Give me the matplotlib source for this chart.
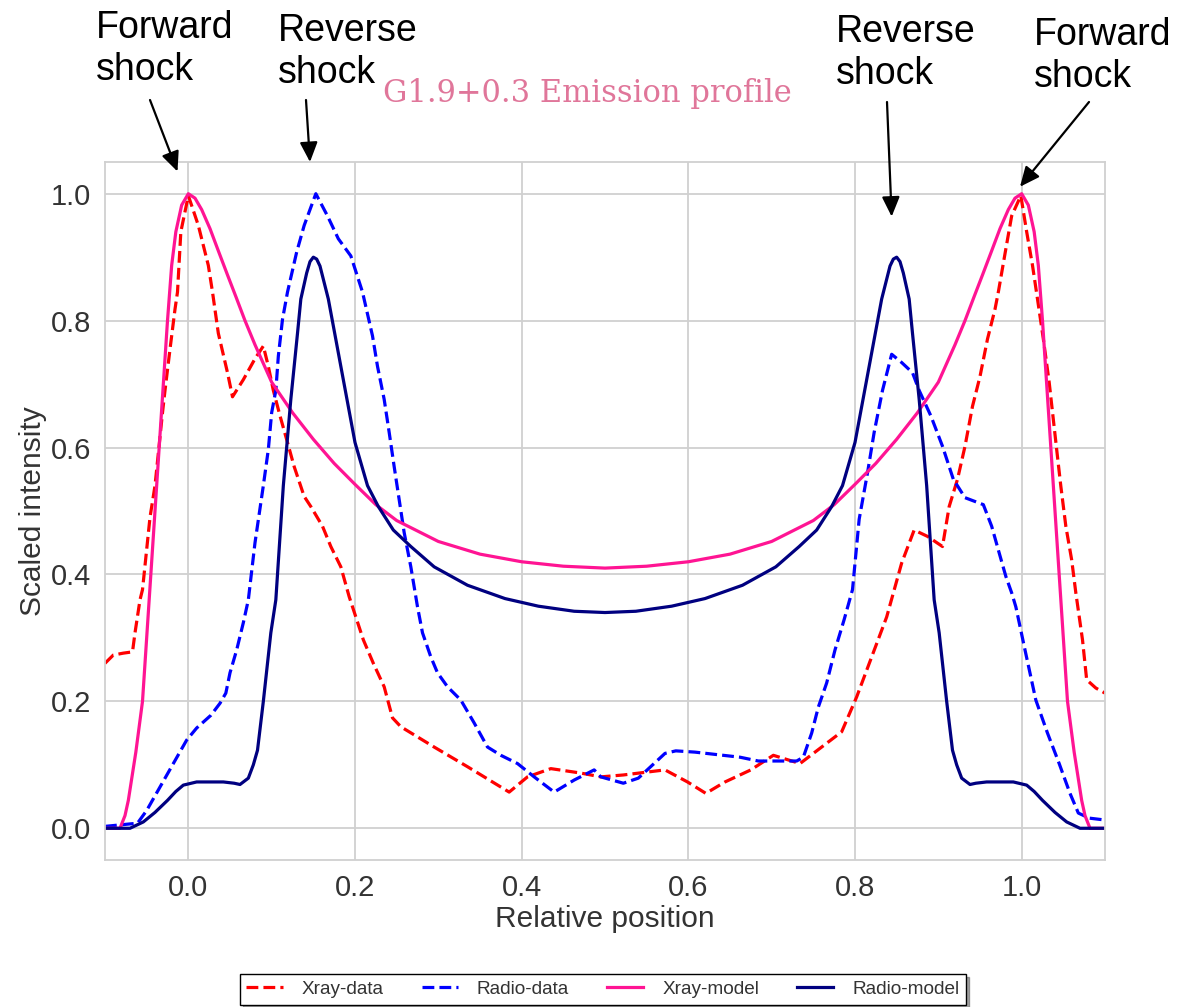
import matplotlib
matplotlib.use("Agg")
import matplotlib.pyplot as plt

# Emission profile of G1.9+0.3
xray_data_x = [-0.100, -0.090, -0.078, -0.067, -0.064, -0.058, -0.055, -0.046, -0.040, -0.031,
               -0.028, -0.022, -0.016, -0.013, -0.009, 0.000, 0.012, 0.024, 0.029, 0.036,
               0.047, 0.053, 0.066, 0.080, 0.090, 0.096, 0.102, 0.110, 0.119, 0.127,
               0.139, 0.147, 0.161, 0.171, 0.183, 0.193, 0.210, 0.222, 0.235, 0.245,
               0.255, 0.295, 0.335, 0.385, 0.407, 0.435, 0.471, 0.495, 0.522, 0.572,
               0.599, 0.621, 0.644, 0.675, 0.702, 0.734, 0.747, 0.784, 0.802, 0.820,
               0.838, 0.856, 0.871, 0.887, 0.905, 0.913, 0.923, 0.932, 0.941, 0.950,
               0.959, 0.968, 0.972, 0.981, 0.988, 0.999, 1.006, 1.013, 1.019, 1.026,
               1.033, 1.042, 1.047, 1.053, 1.060, 1.065, 1.073, 1.078, 1.089, 1.100]
xray_data_y = [0.260, 0.273, 0.276, 0.278, 0.308, 0.360, 0.376, 0.490, 0.540, 0.655,
               0.690, 0.755, 0.818, 0.845, 0.940, 0.997, 0.950, 0.887, 0.845, 0.780,
               0.718, 0.680, 0.707, 0.740, 0.760, 0.728, 0.690, 0.650, 0.608, 0.570,
               0.523, 0.507, 0.476, 0.444, 0.412, 0.365, 0.297, 0.260, 0.223, 0.174,
               0.160, 0.128, 0.097, 0.057, 0.081, 0.094, 0.087, 0.081, 0.084, 0.092,
               0.073, 0.055, 0.073, 0.092, 0.115, 0.102, 0.115, 0.152, 0.207, 0.270,
               0.333, 0.418, 0.470, 0.460, 0.444, 0.507, 0.550, 0.602, 0.665, 0.712,
               0.771, 0.818, 0.845, 0.913, 0.965, 0.997, 0.940, 0.887, 0.834, 0.771,
               0.703, 0.597, 0.539, 0.476, 0.423, 0.371, 0.297, 0.234, 0.221, 0.213]

radio_data_x = [-0.100, -0.061, -0.050, -0.034, -0.018, -0.002, 0.010, 0.027, 0.038, 0.045,
                0.050, 0.058, 0.066, 0.072, 0.080, 0.090, 0.096, 0.100, 0.105, 0.108,
                0.113, 0.119, 0.130, 0.139, 0.153, 0.167, 0.180, 0.195, 0.209, 0.221,
                0.227, 0.235, 0.241, 0.247, 0.253, 0.259, 0.267, 0.275, 0.281, 0.291,
                0.299, 0.311, 0.327, 0.343, 0.359, 0.375, 0.395, 0.415, 0.439, 0.463,
                0.487, 0.495, 0.522, 0.540, 0.572, 0.585, 0.608, 0.662, 0.684, 0.730,
                0.738, 0.748, 0.756, 0.766, 0.776, 0.787, 0.797, 0.805, 0.815, 0.823,
                0.833, 0.844, 0.856, 0.869, 0.877, 0.891, 0.905, 0.918, 0.932, 0.954,
                0.964, 0.973, 0.981, 0.988, 0.993, 1.004, 1.017, 1.031, 1.045, 1.058,
                1.068, 1.081, 1.100]
radio_data_y = [0.003, 0.008, 0.028, 0.065, 0.102, 0.139, 0.158, 0.178, 0.197, 0.213,
                0.245, 0.281, 0.324, 0.360, 0.450, 0.540, 0.597, 0.655, 0.690, 0.744,
                0.802, 0.845, 0.908, 0.950, 1.000, 0.965, 0.929, 0.902, 0.845, 0.776,
                0.728, 0.676, 0.624, 0.570, 0.518, 0.466, 0.412, 0.349, 0.308, 0.270,
                0.245, 0.223, 0.202, 0.166, 0.128, 0.115, 0.102, 0.081, 0.057, 0.076,
                0.092, 0.081, 0.071, 0.079, 0.118, 0.122, 0.120, 0.112, 0.106, 0.106,
                0.112, 0.150, 0.191, 0.229, 0.281, 0.329, 0.376, 0.487, 0.560, 0.624,
                0.690, 0.747, 0.734, 0.718, 0.690, 0.650, 0.602, 0.550, 0.521, 0.510,
                0.476, 0.434, 0.397, 0.371, 0.349, 0.281, 0.202, 0.150, 0.102, 0.055,
                0.024, 0.016, 0.013]

xray_model_x = [-0.100, -0.082, -0.076, -0.072, -0.063, -0.055, -0.047, -0.040, -0.035, -0.025,
                -0.020, -0.015, -0.008, 0.000, 0.008, 0.016, 0.026, 0.036, 0.047, 0.057,
                0.068, 0.080, 0.100, 0.125, 0.150, 0.175, 0.200, 0.225, 0.250, 0.300,
                0.350, 0.400, 0.450, 0.500, 0.550, 0.600, 0.650, 0.700, 0.750, 0.775,
                0.800, 0.825, 0.850, 0.875, 0.900, 0.920, 0.932, 0.943, 0.953, 0.964,
                0.974, 0.984, 0.992, 1.000, 1.008, 1.015, 1.020, 1.025, 1.035, 1.040,
                1.047, 1.055, 1.063, 1.072, 1.076, 1.082, 1.100]
xray_model_y = [0.000, 0.000, 0.020, 0.044, 0.120, 0.200, 0.360, 0.500, 0.600, 0.800,
                0.887, 0.940, 0.982, 1.000, 0.993, 0.975, 0.945, 0.910, 0.872, 0.838,
                0.800, 0.762, 0.703, 0.655, 0.613, 0.575, 0.542, 0.510, 0.485, 0.452,
                0.432, 0.420, 0.413, 0.410, 0.413, 0.420, 0.432, 0.452, 0.485, 0.510,
                0.542, 0.575, 0.613, 0.655, 0.703, 0.762, 0.800, 0.838, 0.872, 0.910,
                0.945, 0.975, 0.993, 1.000, 0.982, 0.940, 0.887, 0.800, 0.600, 0.500,
                0.360, 0.200, 0.120, 0.044, 0.020, 0.000, 0.000]

radio_model_x = [-0.100, -0.070, -0.054, -0.040, -0.025, -0.015, -0.006, 0.010, 0.042, 0.055,
                 0.062, 0.072, 0.078, 0.083, 0.090, 0.099, 0.105, 0.114, 0.123, 0.131,
                 0.135, 0.142, 0.146, 0.150, 0.154, 0.158, 0.168, 0.183, 0.200, 0.215,
                 0.228, 0.246, 0.267, 0.295, 0.335, 0.380, 0.420, 0.463, 0.500, 0.537,
                 0.580, 0.620, 0.665, 0.705, 0.733, 0.754, 0.772, 0.785, 0.800, 0.817,
                 0.832, 0.842, 0.846, 0.850, 0.854, 0.858, 0.865, 0.869, 0.877, 0.886,
                 0.895, 0.901, 0.910, 0.917, 0.922, 0.928, 0.938, 0.945, 0.958, 0.990,
                 1.006, 1.015, 1.025, 1.040, 1.054, 1.070, 1.100]
radio_model_y = [0.000, 0.000, 0.010, 0.025, 0.044, 0.058, 0.068, 0.073, 0.073, 0.071,
                 0.069, 0.079, 0.100, 0.123, 0.200, 0.308, 0.360, 0.540, 0.676, 0.780,
                 0.834, 0.875, 0.893, 0.900, 0.897, 0.886, 0.834, 0.728, 0.608, 0.540,
                 0.507, 0.470, 0.444, 0.412, 0.383, 0.362, 0.350, 0.342, 0.340, 0.342,
                 0.350, 0.362, 0.383, 0.412, 0.444, 0.470, 0.507, 0.540, 0.608, 0.728,
                 0.834, 0.886, 0.897, 0.900, 0.893, 0.875, 0.834, 0.780, 0.676, 0.540,
                 0.360, 0.308, 0.200, 0.123, 0.100, 0.079, 0.069, 0.071, 0.073, 0.073,
                 0.068, 0.058, 0.044, 0.025, 0.010, 0.000, 0.000]

series_labels = ['Xray-data', 'Radio-data', 'Xray-model', 'Radio-model']

# (label, text top-left in figure px from top, arrow tail px, arrow tip in data coords)
shock_notes = [
    ('Forward\nshock', (96, 10), (150, 100), (-0.013, 1.035)),
    ('Reverse\nshock', (278, 13), (306, 100), (0.146, 1.050)),
    ('Reverse\nshock', (836, 14), (887, 102), (0.844, 0.964)),
    ('Forward\nshock', (1034, 17), (1089, 102), (0.998, 1.011)),
]

plt.rcParams['font.family'] = ['Liberation Sans', 'DejaVu Sans']

W, H = 1185, 1007
fig = plt.figure(figsize=(W / 100, H / 100), dpi=100)
ax = fig.add_axes([105 / W, 1 - 860 / H, 1000 / W, 698 / H])

lw = 2.3
ax.plot(xray_data_x, xray_data_y, '--', color='#ff0000', lw=lw, label=series_labels[0])
ax.plot(radio_data_x, radio_data_y, '--', color='#0000ff', lw=lw, label=series_labels[1])
ax.plot(xray_model_x, xray_model_y, '-', color='#ff1493', lw=lw, label=series_labels[2])
ax.plot(radio_model_x, radio_model_y, '-', color='#000080', lw=lw, label=series_labels[3])

ax.set_xlim(-0.1, 1.1)
ax.set_ylim(-0.05, 1.05)
ax.set_xticks([0.0, 0.2, 0.4, 0.6, 0.8, 1.0])
ax.set_yticks([0.0, 0.2, 0.4, 0.6, 0.8, 1.0])
ax.grid(True, color='#d0d0d0', lw=1.3)
ax.set_axisbelow(True)
for s in ax.spines.values():
    s.set_color('#d0d0d0')
    s.set_linewidth(1.3)
ax.tick_params(length=0, labelsize=21, labelcolor='#333333', pad=10)
ax.set_xlabel('Relative position', fontsize=21.5, color='#333333', labelpad=2)
ax.set_ylabel('Scaled intensity', fontsize=21.5, color='#333333', labelpad=3)

fig.text(587 / W, 1 - 102 / H, 'G1.9+0.3 Emission profile', family='DejaVu Serif',
         fontsize=22, color='#e0769a', ha='center', va='baseline')

for text, (tx, ty), tail, tip in shock_notes:
    fig.text(tx / W, 1 - ty / H, text, fontsize=27, color='black', ha='left', va='top',
             linespacing=1.2)
    ax.annotate('', xy=tip, xycoords='data',
                xytext=(tail[0], H - tail[1]), textcoords='figure pixels',
                annotation_clip=False,
                arrowprops=dict(arrowstyle='-|>,head_length=0.6,head_width=0.27',
                                color='black', lw=1.6, mutation_scale=20,
                                shrinkA=0, shrinkB=0))

leg = fig.legend(loc='upper center', bbox_to_anchor=(603 / W, 1 - 974 / H), ncol=4,
                 fontsize=13.7, frameon=True, fancybox=False, shadow=True,
                 handlelength=1.9, handletextpad=1.0, columnspacing=2.0,
                 borderpad=0.35, borderaxespad=0)
leg.get_frame().set_edgecolor('black')
leg.get_frame().set_linewidth(1.0)
for t in leg.get_texts():
    t.set_color('#333333')

fig.savefig('out.png', dpi=100)
